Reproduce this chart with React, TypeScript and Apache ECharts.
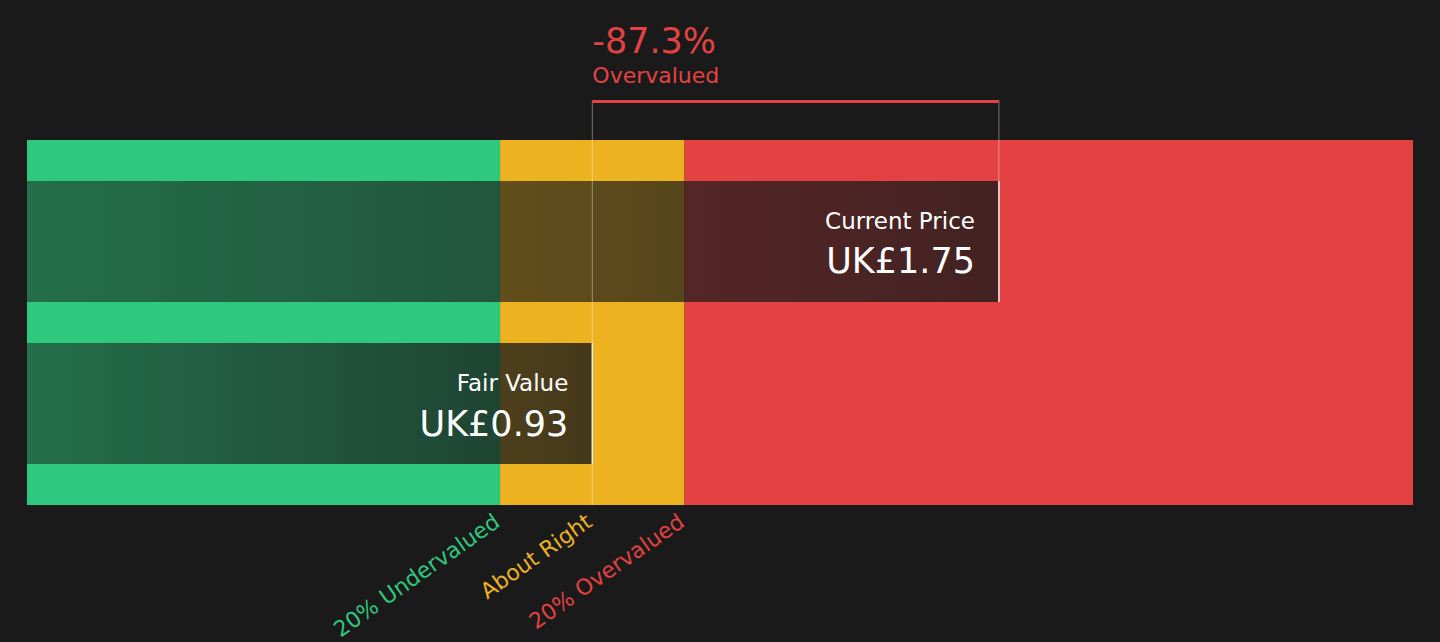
import React, { useEffect, useRef } from "react";
import * as echarts from "echarts";

// ---- data ----
const BAR_NAMES = ["Current Price", "Fair Value"];
const BAR_VALUES = [1.75, 0.93];
const BAR_VALUE_LABELS = ["UK£1.75", "UK£0.93"];

const AXIS_MIN = -0.21;
const AXIS_MAX = 2.585;

const BAND_STARTS = [AXIS_MIN, 0.744, 1.116];
const BAND_ENDS = [0.744, 1.116, AXIS_MAX];

const ZONE_LABELS = ["20% Undervalued", "About Right", "20% Overvalued"];
const ZONE_LABEL_AT = [0.744, 0.93, 1.116];

const DIFF_LABEL = "-87.3%";
const DIFF_VERDICT = "Overvalued";

// ---- styles ----
const BG = "#1a1a1a";
const GREEN = "#2ec97f";
const YELLOW = "#edb21f";
const RED = "#e44242";
const BAND_COLORS = [GREEN, YELLOW, RED];
const FONT = "DejaVu Sans";

export default function App() {
  const ref = useRef<HTMLDivElement>(null);

  useEffect(() => {
    document.body.style.margin = "0";
    document.body.style.background = BG;
    if (!ref.current) return;
    const chart = echarts.init(ref.current, null, { renderer: "svg" });

    const barGradient = {
      type: "linear",
      x: 0,
      y: 0,
      x2: 1,
      y2: 0,
      colorStops: [
        { offset: 0, color: "rgba(26,26,26,0.52)" },
        { offset: 1, color: "rgba(26,26,26,0.8)" },
      ],
    };

    const barSeries = BAR_NAMES.map((name, i) => ({
      type: "bar",
      name,
      z: 2,
      barWidth: 121,
      barGap: "33.9%",
      silent: true,
      data: [BAR_VALUES[i]],
      itemStyle: { color: barGradient },
      label: {
        show: true,
        position: "insideRight",
        distance: 24,
        formatter: `{t|${name}}\n{v|${BAR_VALUE_LABELS[i]}}`,
        rich: {
          t: { fontSize: 23, lineHeight: 40, color: "#ffffff", fontFamily: FONT, align: "right" },
          v: { fontSize: 35, lineHeight: 41, color: "#ffffff", fontFamily: FONT, align: "right" },
        },
      },
    }));

    const option: any = {
      backgroundColor: BG,
      animation: false,
      grid: { left: 27, right: 27, top: 140, bottom: 137, containLabel: false },
      xAxis: { type: "value", min: AXIS_MIN, max: AXIS_MAX, startValue: AXIS_MIN, show: false },
      yAxis: { type: "category", data: ["valuation"], show: false },
      series: [
        {
          type: "custom",
          name: "bands",
          z: 1,
          silent: true,
          encode: { x: [0, 1], y: 2 },
          data: BAND_STARTS.map((s, i) => [s, BAND_ENDS[i], 0, i]),
          renderItem: (params: any, api: any) => {
            const cs = params.coordSys;
            const p0 = api.coord([api.value(0), 0]);
            const p1 = api.coord([api.value(1), 0]);
            return {
              type: "rect",
              shape: { x: p0[0], y: cs.y, width: p1[0] - p0[0], height: cs.height },
              style: { fill: BAND_COLORS[api.value(3)] },
            };
          },
        },
        ...barSeries,
        {
          type: "custom",
          name: "annotation",
          z: 3,
          silent: true,
          encode: { x: [0, 1], y: 2 },
          data: [[BAR_VALUES[1], BAR_VALUES[0], 0]],
          renderItem: (params: any, api: any) => {
            const cs = params.coordSys;
            const xF = api.coord([api.value(0), 0])[0];
            const xC = api.coord([api.value(1), 0])[0];
            const top = cs.y;
            const bottom = cs.y + cs.height;
            const bracketY = top - 40;
            const curTop = top + 41;
            const curBottom = top + 162;
            const fairTop = bottom - 162;
            const fairBottom = bottom - 41;
            const thin = "rgba(255,255,255,0.4)";
            return {
              type: "group",
              children: [
                { type: "line", shape: { x1: xF, y1: bracketY, x2: xF, y2: bottom }, style: { stroke: thin, lineWidth: 1 } },
                { type: "line", shape: { x1: xC, y1: bracketY, x2: xC, y2: curBottom }, style: { stroke: thin, lineWidth: 1 } },
                { type: "line", shape: { x1: xC, y1: curTop, x2: xC, y2: curBottom }, style: { stroke: "rgba(255,255,255,0.85)", lineWidth: 1.5 } },
                { type: "line", shape: { x1: xF, y1: fairTop, x2: xF, y2: fairBottom }, style: { stroke: "rgba(255,255,255,0.85)", lineWidth: 1.5 } },
                { type: "rect", shape: { x: xF, y: bracketY, width: xC - xF, height: 3 }, style: { fill: RED } },
                {
                  type: "text",
                  x: xF,
                  y: 40.6,
                  style: { text: DIFF_LABEL, fill: RED, fontSize: 35, fontFamily: FONT, align: "left", verticalAlign: "middle" },
                },
                {
                  type: "text",
                  x: xF,
                  y: 75.1,
                  style: { text: DIFF_VERDICT, fill: RED, fontSize: 22, fontFamily: FONT, align: "left", verticalAlign: "middle" },
                },
              ],
            };
          },
        },
        {
          type: "custom",
          name: "zones",
          z: 3,
          silent: true,
          encode: { x: 0, y: 1 },
          data: ZONE_LABEL_AT.map((v, i) => [v, 0, i]),
          renderItem: (params: any, api: any) => {
            const cs = params.coordSys;
            const x = api.coord([api.value(0), 0])[0];
            const idx = api.value(2);
            return {
              type: "text",
              x: x - 3,
              y: cs.y + cs.height + 14,
              rotation: (35 * Math.PI) / 180,
              style: {
                text: ZONE_LABELS[idx],
                fill: BAND_COLORS[idx],
                fontSize: 22,
                fontFamily: FONT,
                align: "right",
                verticalAlign: "middle",
              },
            };
          },
        },
      ],
    };

    chart.setOption(option);
    return () => chart.dispose();
  }, []);

  return <div ref={ref} style={{ width: 1440, height: 642 }} />;
}
